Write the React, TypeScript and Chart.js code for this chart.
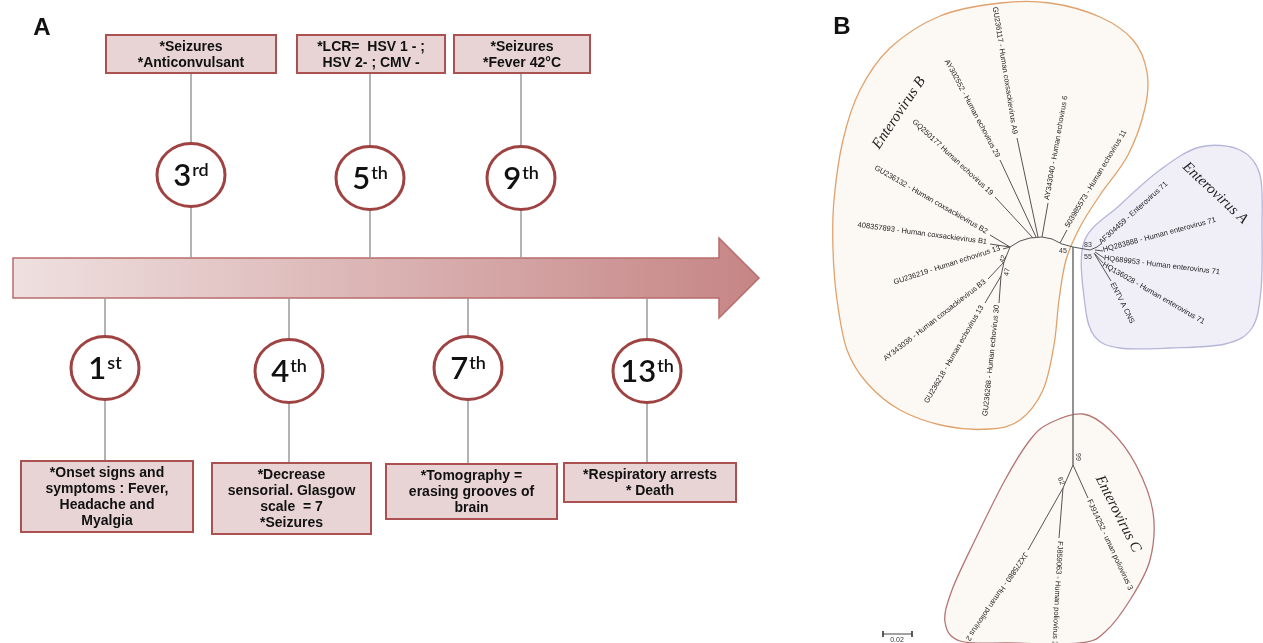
import React, { useEffect, useRef } from "react";
import { Chart, registerables } from "chart.js";
Chart.register(...registerables);

const W = 1263;
const H = 643;

// ---------- Panel A : clinical timeline ----------
const topDays = ["3", "5", "9"];
const topSuffix = ["rd", "th", "th"];
const topNotes = [
  ["*Seizures", "*Anticonvulsant"],
  ["*LCR=  HSV 1 - ;", "HSV 2- ; CMV -"],
  ["*Seizures", "*Fever 42°C"],
];
const topX = [191, 370, 521];
const topCircleY = [175, 178, 178];
const topBoxX = [[106, 276], [297, 445], [454, 590]];

const bottomDays = ["1", "4", "7", "13"];
const bottomSuffix = ["st", "th", "th", "th"];
const bottomNotes = [
  ["*Onset signs and", "symptoms : Fever,", "Headache and", "Myalgia"],
  ["*Decrease", "sensorial. Glasgow", "scale  = 7", "*Seizures"],
  ["*Tomography =", "erasing grooves of", "brain"],
  ["*Respiratory arrests", "* Death"],
];
const bottomX = [105, 289, 468, 647];
const bottomCircleY = [368, 371, 368, 371];
const bottomBoxX = [[21, 193], [212, 371], [386, 557], [564, 736]];
const bottomBoxY = [[461, 532], [463, 534], [464, 519], [463, 502]];

// ---------- Panel B : phylogenetic tree ----------
const cladeB: [number, number][] = [
  [1000, 3], [1050, 3], [1100, 17], [1133, 40], [1147, 72], [1145, 108], [1128, 155],
  [1100, 195], [1080, 227], [1066, 260], [1059, 300], [1054, 345], [1043, 390], [1020, 420],
  [990, 429], [945, 426], [900, 410], [867, 383], [847, 350], [837, 300], [833, 250],
  [834, 200], [843, 140], [860, 90], [890, 48], [940, 16],
];
const cladeA: [number, number][] = [
  [1084, 242], [1120, 205], [1160, 170], [1200, 147], [1240, 150], [1260, 175],
  [1262, 230], [1261, 290], [1252, 328], [1225, 344], [1170, 348], [1120, 348],
  [1095, 337], [1085, 305],
];
const cladeC: [number, number][] = [
  [1083, 414], [1110, 430], [1136, 465], [1153, 512], [1150, 560], [1130, 600],
  [1105, 632], [1080, 643], [1010, 643], [960, 641], [945, 622], [952, 590],
  [975, 540], [1005, 480], [1030, 440], [1050, 423],
];

const treeBranches: [number, number][][] = [
  [[1010, 247], [1020, 241], [1030, 238], [1042, 237], [1052, 239], [1062, 244], [1073, 247], [1090, 250]],
  [[1017, 138], [1038, 237]],
  [[1000, 160], [1036, 237]],
  [[995, 197], [1033, 238]],
  [[1048, 203], [1042, 237]],
  [[1067, 230], [1060, 243]],
  [[990, 235], [1010, 247]],
  [[990, 244], [1010, 247]],
  [[1003, 249], [1010, 247]],
  [[1010, 247], [1004, 262]],
  [[1004, 262], [988, 279]],
  [[1004, 262], [1001, 276]],
  [[1001, 276], [985, 303]],
  [[1001, 276], [999, 303]],
  [[1090, 250], [1097, 247], [1101, 244]],
  [[1095, 250], [1103, 251]],
  [[1095, 252], [1104, 258]],
  [[1095, 254], [1103, 263]],
  [[1094, 253], [1111, 281]],
  [[1073, 247], [1073, 465]],
  [[1073, 465], [1088, 498]],
  [[1073, 465], [1063, 488]],
  [[1063, 488], [1028, 550]],
  [[1063, 488], [1059, 538]],
];

const leafNames = [
  "GU236117 - Human coxsackievirus A9",
  "AY302552 - Human echovirus 29",
  "GQ250177 Human echovirus 19",
  "GU236132 - Human coxsackievirus B2",
  "408357893 - Human coxsackievirus B1",
  "GU236219 - Human echovirus 13",
  "AY343036 - Human coxsackievirus B3",
  "GU236218 - Human echovirus 13",
  "GU236288 - Human echovirus 30",
  "AY343040 - Human echovirus 6",
  "503985573 - Human echovirus 11",
  "AF304459 - Enterovirus 71",
  "HQ283888 - Human enterovirus 71",
  "HQ689953 - Human enterovirus 71",
  "HQ136028 - Human enterovirus 71",
  "ENTV A CNS",
  "FJ914252 - uman poliovirus 3",
  "FJ859063 - Human poliovirus 1",
  "JX275880 - Human poliovirus 2",
];
const leafAnchor: [number, number][] = [
  [1015, 134], [998, 157], [992, 194], [987, 232], [987, 242], [1000, 248],
  [985, 281], [982, 306], [997, 305], [1047, 200], [1067, 227],
  [1100, 243], [1103, 250], [1104, 258], [1103, 264], [1112, 283],
  [1089, 500], [1060, 541], [1026, 553],
];
const leafAngle = [81, 62, 43, 30, 7.5, -18, -38, -60, -84, -80, -59, -42, -15, 7, 30, 63, 65, 93, 124];
const leafAlign = ["right", "right", "right", "right", "right", "right", "right", "right", "right",
  "left", "left", "left", "left", "left", "left", "left", "left", "left", "left"];

const bootValues = ["45", "83", "55", "42", "47", "99", "62"];
const bootPos: [number, number][] = [[1063, 251], [1088, 245], [1088, 257], [1003, 259], [1007, 272], [1078, 457], [1061, 481]];
const bootAngle = [0, 0, 0, -70, -80, 90, 70];

const cladeNames = ["Enterovirus B", "Enterovirus A", "Enterovirus C"];
const cladeLabelPos: [number, number][] = [[899, 113], [1215, 193], [1118, 514]];
const cladeLabelAngle = [-56, 43, 63];

const scaleBarValue = "0.02";

const BOX_FILL = "#e8d4d4";
const BOX_STROKE = "#ab5151";
const CIRCLE_STROKE = "#9f4242";

export default function App() {
  const ref = useRef<HTMLCanvasElement | null>(null);
  useEffect(() => {
    if (!ref.current) return;

    const datasets: any[] = [];
    topX.forEach((x) => {
      datasets.push({ data: [{ x, y: 73 }, { x, y: 258 }], borderColor: "#9a9a9a", borderWidth: 1.5 });
    });
    bottomX.forEach((x, i) => {
      datasets.push({ data: [{ x, y: 298 }, { x, y: bottomBoxY[i][0] }], borderColor: "#9a9a9a", borderWidth: 1.5 });
    });
    treeBranches.forEach((seg, i) => {
      datasets.push({
        data: seg.map(([x, y]) => ({ x, y })),
        borderColor: i === 19 ? "#777" : "#555",
        borderWidth: i === 19 ? 1.6 : 1,
      });
    });
    datasets.push({ data: [{ x: 883, y: 634 }, { x: 912, y: 634 }], borderColor: "#444", borderWidth: 1 });
    datasets.push({ data: [{ x: 883, y: 631 }, { x: 883, y: 637 }], borderColor: "#444", borderWidth: 1 });
    datasets.push({ data: [{ x: 912, y: 631 }, { x: 912, y: 637 }], borderColor: "#444", borderWidth: 1 });
    datasets.forEach((d) => {
      d.showLine = true;
      d.pointRadius = 0;
      d.fill = false;
      d.tension = 0;
    });

    const drawPlugin = {
      id: "drawings",
      beforeDatasetsDraw(chart: any) {
        const ctx = chart.ctx as CanvasRenderingContext2D;
        const sx = (v: number) => chart.scales.x.getPixelForValue(v);
        const sy = (v: number) => chart.scales.y.getPixelForValue(v);
        const blob = (pts: [number, number][], fill: string, stroke: string) => {
          const p = pts.map(([a, b]) => [sx(a), sy(b)]);
          const n = p.length;
          ctx.beginPath();
          ctx.moveTo(p[0][0], p[0][1]);
          for (let i = 0; i < n; i++) {
            const p0 = p[(i - 1 + n) % n], p1 = p[i], p2 = p[(i + 1) % n], p3 = p[(i + 2) % n];
            ctx.bezierCurveTo(
              p1[0] + (p2[0] - p0[0]) / 6, p1[1] + (p2[1] - p0[1]) / 6,
              p2[0] - (p3[0] - p1[0]) / 6, p2[1] - (p3[1] - p1[1]) / 6,
              p2[0], p2[1]
            );
          }
          ctx.closePath();
          ctx.fillStyle = fill;
          ctx.fill();
          ctx.strokeStyle = stroke;
          ctx.lineWidth = 1.3;
          ctx.stroke();
        };
        ctx.save();
        blob(cladeC, "#fcf8f3", "#b57575");
        blob(cladeB, "#fcf8f3", "#e0a26c");
        blob(cladeA, "#f0eff8", "#b6b6da");

        const g = ctx.createLinearGradient(sx(13), 0, sx(759), 0);
        g.addColorStop(0, "#efe0e0");
        g.addColorStop(1, "#c68585");
        ctx.beginPath();
        ctx.moveTo(sx(13), sy(258));
        ctx.lineTo(sx(719), sy(258));
        ctx.lineTo(sx(719), sy(238));
        ctx.lineTo(sx(759), sy(278));
        ctx.lineTo(sx(719), sy(318));
        ctx.lineTo(sx(719), sy(298));
        ctx.lineTo(sx(13), sy(298));
        ctx.closePath();
        ctx.fillStyle = g;
        ctx.fill();
        ctx.strokeStyle = "#b96c6c";
        ctx.lineWidth = 1.5;
        ctx.stroke();
        ctx.restore();
      },
      afterDatasetsDraw(chart: any) {
        const ctx = chart.ctx as CanvasRenderingContext2D;
        const sx = (v: number) => chart.scales.x.getPixelForValue(v);
        const sy = (v: number) => chart.scales.y.getPixelForValue(v);
        ctx.save();

        const box = (x0: number, x1: number, y0: number, y1: number, lines: string[]) => {
          const X0 = sx(x0), X1 = sx(x1), Y0 = sy(y0), Y1 = sy(y1);
          ctx.fillStyle = BOX_FILL;
          ctx.fillRect(X0, Y0, X1 - X0, Y1 - Y0);
          ctx.strokeStyle = BOX_STROKE;
          ctx.lineWidth = 2;
          ctx.strokeRect(X0, Y0, X1 - X0, Y1 - Y0);
          ctx.fillStyle = "#111";
          ctx.font = 'bold 14px "Liberation Sans", Arial, sans-serif';
          ctx.textAlign = "center";
          ctx.textBaseline = "middle";
          const cy = (Y0 + Y1) / 2;
          const lh = 16;
          lines.forEach((t, k) => {
            ctx.fillText(t, (X0 + X1) / 2, cy + (k - (lines.length - 1) / 2) * lh + 1);
          });
        };
        const circle = (cx: number, cy: number, num: string, sup: string) => {
          const X = sx(cx), Y = sy(cy);
          ctx.beginPath();
          ctx.ellipse(X, Y, 34, 31.5, 0, 0, Math.PI * 2);
          ctx.fillStyle = "#ffffff";
          ctx.fill();
          ctx.strokeStyle = CIRCLE_STROKE;
          ctx.lineWidth = 3;
          ctx.stroke();
          ctx.fillStyle = "#111";
          ctx.textBaseline = "alphabetic";
          ctx.textAlign = "left";
          const fMain = '600 31px Lato, "Open Sans", sans-serif';
          const fSup = '600 18px Lato, "Open Sans", sans-serif';
          ctx.font = fMain;
          const wm = ctx.measureText(num).width;
          ctx.font = fSup;
          const ws = ctx.measureText(sup).width;
          const start = X - (wm + ws + 1) / 2;
          ctx.font = fMain;
          ctx.fillText(num, start, Y + 11);
          ctx.font = fSup;
          ctx.fillText(sup, start + wm + 1, Y + 0.5);
        };

        topDays.forEach((d, i) => {
          box(topBoxX[i][0], topBoxX[i][1], 35, 73, topNotes[i]);
          circle(topX[i], topCircleY[i], d, topSuffix[i]);
        });
        bottomDays.forEach((d, i) => {
          box(bottomBoxX[i][0], bottomBoxX[i][1], bottomBoxY[i][0], bottomBoxY[i][1], bottomNotes[i]);
          circle(bottomX[i], bottomCircleY[i], d, bottomSuffix[i]);
        });

        ctx.fillStyle = "#111";
        ctx.font = 'bold 24px "Liberation Sans", Arial, sans-serif';
        ctx.textAlign = "center";
        ctx.textBaseline = "middle";
        ctx.fillText("A", sx(42), sy(28));
        ctx.fillText("B", sx(842), sy(27));

        const rtext = (t: string, x: number, y: number, a: number, align: any, font: string, color: string) => {
          ctx.save();
          ctx.translate(sx(x), sy(y));
          ctx.rotate((a * Math.PI) / 180);
          ctx.font = font;
          ctx.fillStyle = color;
          ctx.textAlign = align;
          ctx.textBaseline = "middle";
          ctx.fillText(t, 0, 0);
          ctx.restore();
        };
        leafNames.forEach((t, i) => {
          rtext(t, leafAnchor[i][0], leafAnchor[i][1], leafAngle[i], leafAlign[i],
            '7.5px "Liberation Sans", Arial, sans-serif', "#222");
        });
        bootValues.forEach((t, i) => {
          rtext(t, bootPos[i][0], bootPos[i][1], bootAngle[i], "center",
            '7px "Liberation Sans", Arial, sans-serif', "#333");
        });
        cladeNames.forEach((t, i) => {
          rtext(t, cladeLabelPos[i][0], cladeLabelPos[i][1], cladeLabelAngle[i], "center",
            'italic 15px "Liberation Serif", "Times New Roman", serif', "#222");
        });
        rtext(scaleBarValue, 897, 640, 0, "center", '7px "Liberation Sans", Arial, sans-serif', "#333");
        ctx.restore();
      },
    };

    const chart = new Chart(ref.current, {
      type: "scatter",
      data: { datasets },
      options: {
        animation: false,
        responsive: false,
        maintainAspectRatio: false,
        layout: { padding: 0 },
        plugins: { legend: { display: false }, tooltip: { enabled: false } },
        events: [],
        scales: {
          x: { type: "linear", min: 0, max: W, display: false },
          y: { type: "linear", min: 0, max: H, reverse: true, display: false },
        },
      },
      plugins: [drawPlugin],
    });
    return () => chart.destroy();
  }, []);

  return (
    <div style={{ position: "absolute", left: 0, top: 0, width: W, height: H, background: "#fff" }}>
      <canvas ref={ref} width={W} height={H} style={{ display: "block", width: W, height: H }} />
    </div>
  );
}
